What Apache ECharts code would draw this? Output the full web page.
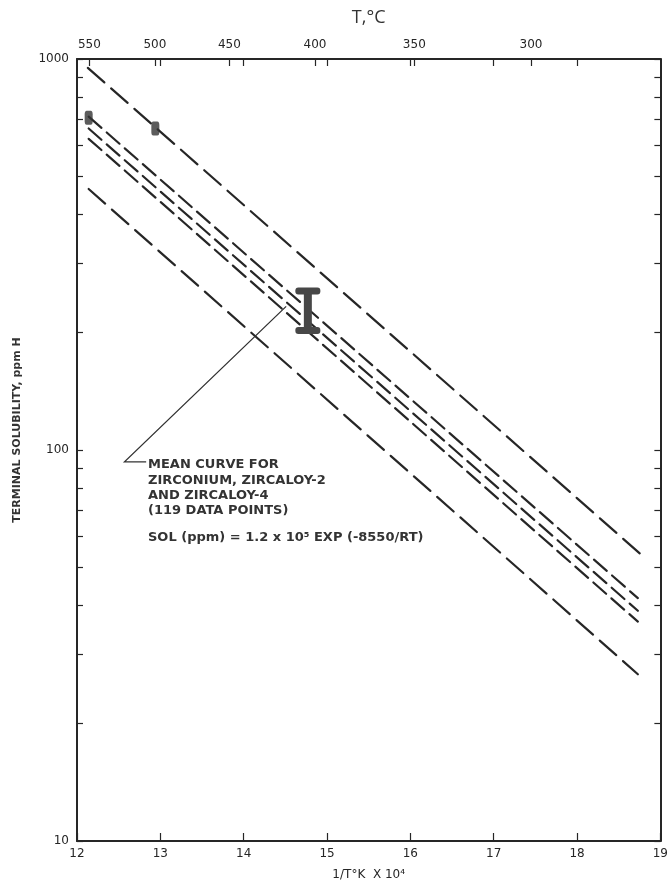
<!DOCTYPE html>
<html><head><meta charset="utf-8">
<script src="https://cdn.jsdelivr.net/npm/echarts@6/dist/echarts.min.js"></script>
<style>html,body{margin:0;padding:0;background:#fff}#c{width:671px;height:886px}</style>
</head><body><div id="c"></div>
<script>
// ---- data ----
const xRange = [12, 19];
const yRange = [10, 1000];
const bottomTickValues = [12, 13, 14, 15, 16, 17, 18, 19];
const topTempLabels = [550, 500, 450, 400, 350, 300];
const yTickValues = [10, 20, 30, 40, 50, 60, 70, 80, 90, 100, 200, 300, 400, 500, 600, 700, 800, 900, 1000];

const upperBoundX = [12.13, 18.77];
const upperBoundY = [949, 54];
const curveAX = [12.14, 18.73];
const curveAY = [712, 41.8];
const meanCurveX = [12.14, 18.73];
const meanCurveY = [664, 38.8];
const curveCX = [12.14, 18.73];
const curveCY = [625, 36.4];
const lowerBoundX = [12.14, 18.73];
const lowerBoundY = [465, 26.7];

const pointX = [12.14, 12.94];
const pointY = [708, 664];

const errorBarX = [14.77];
const errorBarLow = [202];
const errorBarHigh = [255];

const arrowX = [12.83, 12.57, 14.51];
const arrowY = [93.3, 93.3, 233];

const noteLines = ['MEAN CURVE FOR', 'ZIRCONIUM, ZIRCALOY-2', 'AND ZIRCALOY-4', '(119 DATA POINTS)'];
const formulaText = 'SOL (ppm) = 1.2 x 10⁵ EXP (-8550/RT)';
const yAxisTitle = 'TERMINAL SOLUBILITY, ppm H';
const xAxisTitle = '1/T°K  X 10⁴';
const topAxisTitle = 'T,°C';

// ---- helpers ----
const zip = (xs, ys) => xs.map((x, i) => [x, ys[i]]);
const tempToX = t => 1e4 / (t + 273.15);
const topLabelPos = topTempLabels.map(tempToX);
const topTickPos = topLabelPos.concat(bottomTickValues.slice(1, -1));

const INK = '#262626';
const FONT = '"DejaVu Sans", sans-serif';

function dashed(name, xs, ys, dash) {
  return {
    name, type: 'line', data: zip(xs, ys), symbol: 'none', silent: true,
    lineStyle: { color: INK, width: 2.2, type: dash, cap: 'round' }
  };
}

const chart = echarts.init(document.getElementById('c'), null, { renderer: 'canvas' });
chart.setOption({
  animation: false,
  backgroundColor: '#fff',
  grid: { left: 77, right: 4, top: 59, bottom: 38 },
  xAxis: [{
    type: 'value', position: 'bottom', min: xRange[0], max: xRange[1], interval: 1,
    axisLine: { onZero: false, lineStyle: { color: INK, width: 2 } },
    axisTick: { inside: true, length: 8, lineStyle: { color: INK, width: 1.2 } },
    axisLabel: { color: INK, fontSize: 12, fontFamily: FONT, margin: 7 },
    splitLine: { show: false },
    name: xAxisTitle, nameLocation: 'middle', nameGap: 28,
    nameTextStyle: { color: INK, fontSize: 12, fontFamily: FONT }
  }, {
    type: 'value', position: 'top', min: xRange[0], max: xRange[1],
    axisLine: { onZero: false, lineStyle: { color: INK, width: 2 } },
    axisTick: { inside: true, length: 7, customValues: topTickPos, lineStyle: { color: INK, width: 1.2 } },
    axisLabel: {
      customValues: topLabelPos, color: INK, fontSize: 12, fontFamily: FONT, margin: 8,
      formatter: v => String(Math.round(1e4 / v - 273.15))
    },
    splitLine: { show: false },
    name: topAxisTitle, nameLocation: 'middle', nameGap: 32,
    nameTextStyle: { color: '#333', fontSize: 18, fontFamily: '"Open Sans", sans-serif' }
  }],
  yAxis: [{
    type: 'log', logBase: 10, position: 'left', min: yRange[0], max: yRange[1],
    axisLine: { show: true, onZero: false, lineStyle: { color: INK, width: 2 } },
    axisTick: { show: true, inside: true, length: 6, customValues: yTickValues, lineStyle: { color: INK, width: 1.2 } },
    axisLabel: { color: INK, fontSize: 12, fontFamily: FONT, margin: 8, formatter: v => String(Math.round(v)) },
    splitLine: { show: false },
    minorTick: { show: false }
  }, {
    type: 'log', logBase: 10, position: 'right', min: yRange[0], max: yRange[1],
    axisLine: { show: true, onZero: false, lineStyle: { color: INK, width: 2 } },
    axisTick: { show: true, inside: true, length: 6, customValues: yTickValues, lineStyle: { color: INK, width: 1.2 } },
    axisLabel: { show: false },
    splitLine: { show: false }
  }],
  series: [
    dashed('upper', upperBoundX, upperBoundY, [22, 9]),
    dashed('curveA', curveAX, curveAY, [17, 7]),
    dashed('mean', meanCurveX, meanCurveY, [17, 7]),
    dashed('curveC', curveCX, curveCY, [17, 7]),
    dashed('lower', lowerBoundX, lowerBoundY, [22, 9]),
    {
      name: 'points', type: 'scatter', data: zip(pointX, pointY),
      symbol: 'roundRect', symbolSize: [8, 14], itemStyle: { color: '#333' }, z: 5
    },
    {
      name: 'errorbar', type: 'custom', z: 6,
      data: errorBarX.map((x, i) => [x, errorBarLow[i], errorBarHigh[i]]),
      encode: { x: 0, y: [1, 2] },
      renderItem: (params, api) => {
        const x = api.value(0);
        const lo = api.coord([x, api.value(1)]);
        const hi = api.coord([x, api.value(2)]);
        const fill = '#474747';
        return {
          type: 'group', children: [
            { type: 'rect', shape: { x: hi[0] - 4, y: hi[1], width: 8, height: lo[1] - hi[1] }, style: { fill } },
            { type: 'rect', shape: { x: hi[0] - 12.5, y: hi[1] - 3.5, width: 25, height: 7, r: 3 }, style: { fill } },
            { type: 'rect', shape: { x: lo[0] - 12.5, y: lo[1] - 3.5, width: 25, height: 7, r: 3 }, style: { fill } }
          ]
        };
      }
    },
    {
      name: 'pointer', type: 'lines', coordinateSystem: 'cartesian2d', polyline: true,
      data: [{ coords: zip(arrowX, arrowY) }],
      symbol: ['none', 'arrow'], symbolSize: 9,
      lineStyle: { color: '#333', width: 1.3, opacity: 1 }, z: 4
    }
  ],
  graphic: [
    ...noteLines.map((t, i) => ({
      type: 'text', x: 148, y: 465 + i * 15.3,
      style: { text: t, font: 'bold 13px ' + FONT, fill: '#333', verticalAlign: 'middle' }
    })),
    {
      type: 'text', x: 148, y: 538,
      style: { text: formulaText, font: 'bold 13px ' + FONT, fill: '#333', verticalAlign: 'middle' }
    },
    {
      type: 'text', x: 17, y: 430, rotation: Math.PI / 2,
      style: { text: yAxisTitle, font: 'bold 11px ' + FONT, fill: '#333', align: 'center', verticalAlign: 'middle' }
    }
  ]
});
</script>
</body></html>
